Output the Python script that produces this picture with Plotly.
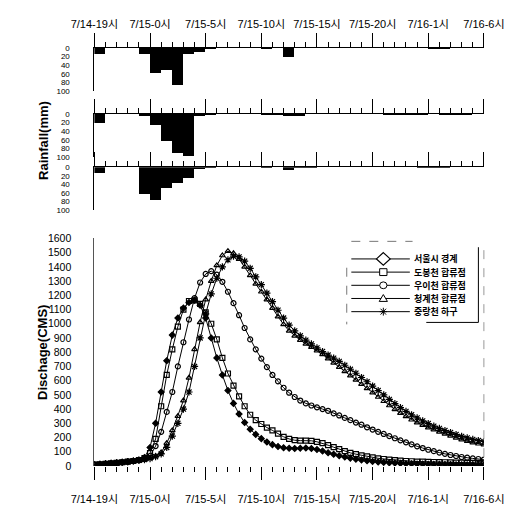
import plotly.graph_objects as go

W, H = 525, 512
FONT = "Liberation Sans, Arial, Noto Sans CJK KR, sans-serif"

# ---- data ----
# time axis: hours after 7/14 19시, every 30 minutes
hours = [i * 0.5 for i in range(71)]
tick_hours = [0, 5, 10, 15, 20, 25, 30, 35]
tick_labels = ["7/14-19시", "7/15-0시", "7/15-5시", "7/15-10시",
               "7/15-15시", "7/15-20시", "7/16-1시", "7/16-6시"]

series_names = ["서울시 경계", "도봉천 합류점", "우이천 합류점", "청계천 합류점", "중랑천 하구"]

q_seoul = [10, 12, 15, 18, 22, 26, 30, 35, 42, 60,
           130, 300, 520, 740, 920, 1040, 1110, 1150, 1165, 1130,
           1040, 900, 760, 640, 530, 440, 365, 305, 258, 222,
           192, 168, 150, 137, 128, 124, 123, 125, 126, 123,
           116, 105, 93, 82, 72, 63, 55, 48, 42, 37,
           32, 28, 25, 22, 20, 18, 16, 15, 14, 13,
           12, 11, 11, 10, 10, 9, 9, 8, 8, 7,
           7]
q_dobong = [10, 12, 15, 18, 22, 26, 30, 35, 42, 55,
            90, 190, 420, 640, 820, 980, 1100, 1160, 1165, 1140,
            1080, 1000, 890, 760, 650, 565, 490, 420, 360, 322,
            295, 270, 250, 228, 205, 190, 181, 178, 178, 177,
            170, 160, 146, 132, 118, 104, 92, 83, 75, 67,
            60, 54, 49, 45, 41, 38, 35, 33, 31, 30,
            29, 28, 27, 26, 25, 24, 23, 22, 22, 21,
            20]
q_ui = [10, 12, 15, 18, 22, 26, 30, 35, 40, 48,
        70, 140, 240, 380, 520, 700, 870, 1030, 1180, 1290,
        1350, 1370, 1345, 1295, 1225, 1145, 1060, 970, 890, 820,
        755, 695, 640, 595, 550, 515, 485, 460, 440, 425,
        412, 400, 388, 370, 355, 338, 322, 305, 290, 272,
        256, 240, 225, 210, 195, 180, 166, 152, 138, 126,
        114, 104, 94, 85, 77, 70, 63, 58, 53, 49,
        45]
q_cheonggye = [10, 12, 15, 18, 22, 26, 30, 35, 40, 45,
               55, 70, 95, 160, 250, 350, 460, 620, 820, 1010,
               1170, 1300, 1410, 1480, 1510, 1495, 1455, 1400, 1340, 1280,
               1225, 1170, 1110, 1050, 995, 950, 915, 885, 858, 835,
               810, 785, 755, 725, 695, 665, 635, 605, 575, 545,
               515, 485, 455, 425, 398, 372, 348, 325, 305, 287,
               270, 255, 240, 226, 212, 198, 185, 174, 164, 156,
               150]
q_jungnang = [10, 12, 15, 18, 22, 26, 30, 35, 40, 45,
              52, 65, 85, 130, 210, 300, 400, 520, 700, 900,
              1070, 1210, 1320, 1400, 1450, 1475, 1470, 1440, 1390, 1330,
              1275, 1215, 1155, 1095, 1040, 990, 950, 915, 885, 858,
              830, 805, 780, 758, 735, 708, 680, 652, 622, 592,
              562, 530, 500, 468, 438, 410, 384, 360, 338, 317,
              298, 280, 264, 249, 235, 221, 208, 197, 187, 179,
              172]

# hourly rainfall (mm), hour 0 = 7/14 19-20시
rain_hours = [h + 0.5 for h in range(35)]
rain_p1 = [13, 0, 0, 0, 15, 58, 52, 87, 15, 9, 2, 0, 0, 0, 0, 1, 0, 20, 0, 0,
           0, 0, 0, 0, 0, 0, 0, 0, 0, 0, 1, 1, 0, 0, 0]
rain_p2 = [20, 0, 0, 0, 5, 26, 63, 91, 97, 5, 2, 0, 0, 0, 0, 2, 1, 3, 3, 0,
           0, 0, 0, 0, 0, 0, 1, 1, 1, 1, 0, 1, 1, 1, 0]
rain_p3 = [15, 0, 0, 0, 63, 77, 49, 38, 25, 4, 1, 0, 0, 0, 0, 2, 0, 7, 2, 2,
           0, 0, 0, 0, 0, 0, 0, 0, 0, 1, 1, 1, 0, 0, 0]
rain_ticks = [0, 20, 40, 60, 80, 100]

# ---- helpers (pixel -> paper) ----
def px(x):
    return x / W


def py(y):
    return 1 - y / H


X_DOM = [px(77), px(503)]

fig = go.Figure()

# rainfall bars
for i, rain in enumerate([rain_p1, rain_p2, rain_p3]):
    fig.add_trace(go.Bar(x=rain_hours, y=rain, width=1,
                         marker=dict(color="black", line=dict(width=0)),
                         xaxis=f"x{i + 2}", yaxis=f"y{i + 2}", showlegend=False))

# discharge lines
symbols = ["diamond", "square-open", "circle-open", "triangle-up-open", "asterisk-open"]
all_q = [q_seoul, q_dobong, q_ui, q_cheonggye, q_jungnang]
sizes = [4.5, 5, 5, 5, 6]
for name, q, sym, sz in zip(series_names, all_q, symbols, sizes):
    fig.add_trace(go.Scatter(x=hours, y=q, name=name, mode="lines+markers",
                             line=dict(color="black", width=1),
                             marker=dict(symbol=sym, size=sz, color="black",
                                         line=dict(color="black", width=1.2)),
                             xaxis="x", yaxis="y", showlegend=False))

tickfont = dict(family=FONT, size=11, color="black")

# main axes
xaxis_main = dict(domain=X_DOM, range=[0, 35], anchor="y", showline=False,
                  showgrid=False, zeroline=False, ticks="outside", ticklen=13,
                  tickcolor="black", tickwidth=1, tickmode="array",
                  tickvals=tick_hours, ticktext=tick_labels, tickfont=tickfont,
                  ticklabelstandoff=10,
                  minor=dict(dtick=1, tick0=0, ticks="outside", ticklen=5,
                             tickcolor="black", tickwidth=1, showgrid=False))
yaxis_main = dict(domain=[py(471), py(238)], range=[0, 1600], anchor="x",
                  dtick=100, showline=True, linecolor="#555", linewidth=1,
                  showgrid=False, zeroline=False, ticks="",
                  tickfont=dict(family=FONT, size=10.5, color="black"),
                  ticklabelstandoff=20)

layout_axes = dict(xaxis=xaxis_main, yaxis=yaxis_main)

panel_tops = [43, 110.5, 165]
for i, top in enumerate(panel_tops):
    n = i + 2
    layout_axes[f"xaxis{n}"] = dict(
        domain=X_DOM, range=[0, 35], anchor=f"y{n}", side="top",
        showline=True, linecolor="black", linewidth=1, showgrid=False,
        zeroline=False, ticks="outside", ticklen=14, tickcolor="black",
        tickwidth=1, tickmode="array", tickvals=tick_hours, ticktext=tick_labels,
        showticklabels=(i == 0), tickfont=tickfont, ticklabelstandoff=1,
        minor=dict(dtick=1, tick0=0, ticks="outside", ticklen=5,
                   tickcolor="black", tickwidth=1, showgrid=False))
    layout_axes[f"yaxis{n}"] = dict(
        domain=[py(top + 44), py(top)], range=[100, 0], anchor=f"x{n}",
        tickmode="array", tickvals=rain_ticks,
        showline=True, linecolor="black", linewidth=1, showgrid=False,
        zeroline=False, ticks="", ticklabelstandoff=22,
        tickfont=dict(family=FONT, size=8, color="black"))

shapes = []
annotations = []

# right frame line of discharge chart
shapes.append(dict(type="line", xref="paper", yref="paper",
                   x0=px(503), x1=px(503), y0=py(250), y1=py(471),
                   line=dict(color="#999", width=1, dash="dash")))

# axis titles
annotations.append(dict(text="<b>Rainfall(mm)</b>", xref="paper", yref="paper",
                        x=px(22), y=py(138), textangle=-90, showarrow=False,
                        font=dict(family=FONT, size=13, color="black"),
                        xanchor="center", yanchor="middle"))
annotations.append(dict(text="<b>Dischage(CMS)</b>", xref="paper", yref="paper",
                        x=px(20), y=py(355), textangle=-90, showarrow=False,
                        font=dict(family=FONT, size=13, color="black"),
                        xanchor="center", yanchor="middle"))

# ---- hand-drawn legend ----
rows = [259, 272.5, 286, 299.5, 313]
lx0, lx1, mx, tx = 358, 422, 393, 424
for k, (name, yy) in enumerate(zip(series_names, rows)):
    shapes.append(dict(type="line", xref="paper", yref="paper",
                       x0=px(lx0), x1=px(lx1), y0=py(yy), y1=py(yy),
                       line=dict(color="black", width=1)))
    if k == 0:
        path = (f"M{px(mx)},{py(yy - 6.5)} L{px(mx + 7.5)},{py(yy)} "
                f"L{px(mx)},{py(yy + 6.5)} L{px(mx - 7.5)},{py(yy)} Z")
        shapes.append(dict(type="path", xref="paper", yref="paper", path=path,
                           fillcolor="white", line=dict(color="black", width=1.2)))
    elif k == 1:
        shapes.append(dict(type="rect", xref="paper", yref="paper",
                           x0=px(mx - 4), x1=px(mx + 4), y0=py(yy - 3.5), y1=py(yy + 3.5),
                           fillcolor="white", line=dict(color="black", width=1)))
    elif k == 2:
        shapes.append(dict(type="circle", xref="paper", yref="paper",
                           x0=px(mx - 4), x1=px(mx + 4), y0=py(yy - 3.5), y1=py(yy + 3.5),
                           fillcolor="white", line=dict(color="black", width=1)))
    elif k == 3:
        path = (f"M{px(mx)},{py(yy - 4)} L{px(mx + 4.5)},{py(yy + 3)} "
                f"L{px(mx - 4.5)},{py(yy + 3)} Z")
        shapes.append(dict(type="path", xref="paper", yref="paper", path=path,
                           fillcolor="white", line=dict(color="black", width=1)))
    else:
        path = (f"M{px(mx - 4)},{py(yy)} L{px(mx + 4)},{py(yy)} "
                f"M{px(mx)},{py(yy - 4)} L{px(mx)},{py(yy + 4)} "
                f"M{px(mx - 3)},{py(yy - 3)} L{px(mx + 3)},{py(yy + 3)} "
                f"M{px(mx - 3)},{py(yy + 3)} L{px(mx + 3)},{py(yy - 3)}")
        shapes.append(dict(type="path", xref="paper", yref="paper", path=path,
                           line=dict(color="black", width=1)))
    annotations.append(dict(text="<b>" + name + "</b>", xref="paper", yref="paper",
                            x=px(tx), y=py(yy), showarrow=False,
                            xanchor="left", yanchor="middle",
                            font=dict(family="Noto Sans CJK KR", size=9, color="black")))

# legend frame (partly faded in the original)
shapes.append(dict(type="line", xref="paper", yref="paper",
                   x0=px(497), x1=px(497), y0=py(247), y1=py(324),
                   line=dict(color="black", width=1)))
shapes.append(dict(type="line", xref="paper", yref="paper",
                   x0=px(440), x1=px(497), y0=py(324), y1=py(324),
                   line=dict(color="black", width=1)))
shapes.append(dict(type="line", xref="paper", yref="paper",
                   x0=px(353), x1=px(353), y0=py(268), y1=py(326),
                   line=dict(color="#777", width=1, dash="dash")))
shapes.append(dict(type="line", xref="paper", yref="paper",
                   x0=px(358), x1=px(425), y0=py(241), y1=py(241),
                   line=dict(color="#777", width=1, dash="dash")))

fig.update_layout(width=W, height=H, margin=dict(l=0, r=0, t=0, b=0),
                  paper_bgcolor="white", plot_bgcolor="white",
                  showlegend=False, bargap=0,
                  font=dict(family=FONT, size=10, color="black"),
                  shapes=shapes, annotations=annotations, **layout_axes)

fig.write_html("out.html")
